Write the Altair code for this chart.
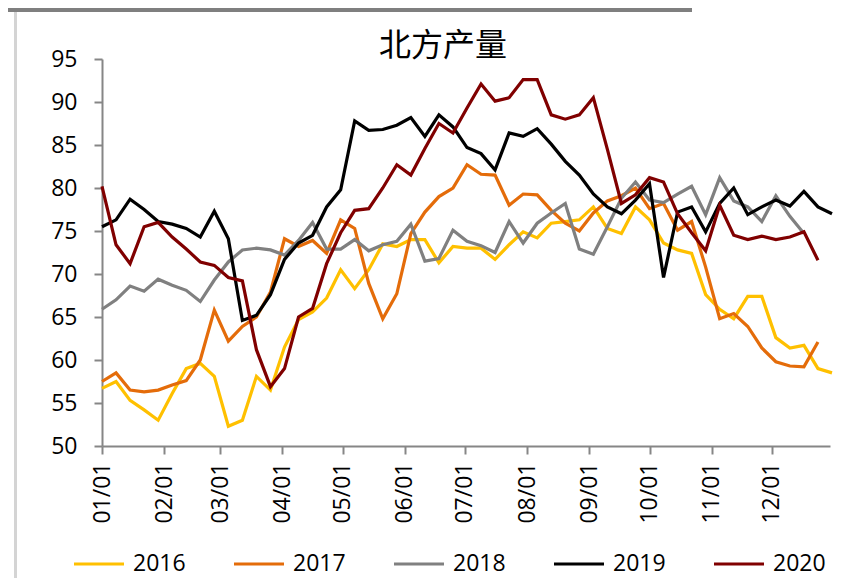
import altair as alt
import pandas as pd

years = ["2016", "2017", "2018", "2019", "2020"]
colors = ["#FFC000", "#E46C0A", "#808080", "#000000", "#800000"]
widths = [3.2, 3.2, 3.2, 3.2, 5.4]

v2016 = [56.7, 57.5, 55.3, 54.2, 53.0, 56.1, 59.0, 59.6, 58.1, 52.3, 53.0, 58.1, 56.5, 61.5,
         64.7, 65.6, 67.2, 70.5, 68.3, 70.5, 73.5, 73.2, 74.0, 74.0, 71.3, 73.2, 73.0, 73.0,
         71.7, 73.4, 74.9, 74.2, 75.9, 76.1, 76.3, 77.8, 75.3, 74.7, 77.8, 76.3, 73.6, 72.8,
         72.4, 67.6, 65.9, 64.8, 67.4, 67.4, 62.6, 61.4, 61.7, 59.0, 58.5]
v2017 = [57.5, 58.5, 56.5, 56.3, 56.5, 57.1, 57.6, 60.0, 65.8, 62.2, 63.9, 65.0, 67.9, 74.1,
         73.2, 73.9, 72.4, 76.3, 75.3, 68.9, 64.8, 67.7, 74.7, 77.2, 79.0, 80.0, 82.7, 81.6,
         81.5, 78.0, 79.3, 79.2, 77.4, 75.9, 75.0, 77.1, 78.5, 79.1, 80.0, 77.6, 78.2, 75.1,
         76.1, 70.8, 64.8, 65.4, 63.9, 61.4, 59.8, 59.3, 59.2, 62.1]
v2018 = [65.9, 67.0, 68.6, 68.0, 69.4, 68.7, 68.1, 66.8, 69.3, 71.4, 72.8, 73.0, 72.8, 72.2,
         73.9, 76.0, 72.9, 72.9, 74.0, 72.7, 73.4, 73.8, 75.8, 71.5, 71.8, 75.1, 73.8, 73.3,
         72.5, 76.1, 73.6, 75.9, 77.1, 78.2, 72.9, 72.3, 75.5, 78.8, 80.7, 78.6, 78.3, 79.3,
         80.2, 76.9, 81.2, 78.5, 77.8, 76.1, 79.1, 76.7, 74.7]
v2019 = [75.5, 76.3, 78.7, 77.5, 76.1, 75.8, 75.3, 74.3, 77.3, 74.1, 64.6, 65.2, 67.6, 71.7,
         73.6, 74.5, 77.8, 79.8, 87.8, 86.7, 86.8, 87.3, 88.2, 86.0, 88.5, 87.1, 84.7, 84.0,
         82.1, 86.4, 86.0, 86.9, 85.1, 83.1, 81.5, 79.3, 77.8, 77.0, 78.6, 80.5, 69.6, 77.2,
         77.8, 74.9, 78.2, 80.0, 76.9, 77.8, 78.6, 77.9, 79.6, 77.8, 77.0]
v2020 = [80.2, 73.4, 71.2, 75.5, 76.0, 74.3, 72.9, 71.4, 71.0, 69.6, 69.2, 61.2, 56.9, 59.0,
         65.0, 66.0, 71.2, 74.8, 77.4, 77.6, 80.0, 82.7, 81.5, 84.6, 87.5, 86.4, 89.3, 92.1,
         90.1, 90.5, 92.6, 92.6, 88.5, 88.0, 88.5, 90.5, 84.5, 78.2, 79.2, 81.2, 80.7, 77.0,
         74.8, 72.7, 78.0, 74.5, 74.0, 74.4, 74.0, 74.3, 74.9, 71.6]
series = [v2016, v2017, v2018, v2019, v2020]

y_ticks = [50, 55, 60, 65, 70, 75, 80, 85, 90, 95]
month_ticks = [alt.DateTime(year=2019, month=m, date=1) for m in range(1, 13)]

dates = pd.date_range("2019-01-01", periods=53, freq="7D").strftime("%Y-%m-%dT00:00:00")

rows = []
for yr, vals in zip(years, series):
    for d, v in zip(dates, vals):
        rows.append({"date": d, "value": v, "series": yr})
df = pd.DataFrame(rows)

font = "Open Sans"

lines = alt.Chart(df).mark_line(strokeJoin="miter", strokeCap="butt").encode(
    x=alt.X("date:T",
            scale=alt.Scale(domain=[alt.DateTime(year=2019, month=1, date=1),
                                    alt.DateTime(year=2019, month=12, date=30)]),
            axis=alt.Axis(values=month_ticks, format="%m/%d", labelAngle=270,
                          labelAlign="right", labelBaseline="middle",
                          labelPadding=8, tickSize=8, title=None, grid=False,
                          labelFont=font, labelFontSize=23, labelColor="#000000",
                          domainColor="#868686", domainWidth=2, tickColor="#868686",
                          tickWidth=2)),
    y=alt.Y("value:Q", scale=alt.Scale(domain=[50, 95], nice=False, zero=False),
            axis=alt.Axis(values=y_ticks, tickSize=8, labelPadding=17, title=None, grid=False,
                          labelFont=font, labelFontSize=23, labelColor="#000000",
                          domainColor="#868686", domainWidth=2, tickColor="#868686",
                          tickWidth=2)),
    color=alt.Color("series:N", scale=alt.Scale(domain=years, range=colors),
                    legend=alt.Legend(title=None, orient="none", legendX=-30, legendY=478,
                                      direction="horizontal", columns=5,
                                      symbolType="stroke", symbolSize=2500,
                                      symbolStrokeWidth=4, labelOffset=7,
                                      columnPadding=41, labelFont=font,
                                      labelFontSize=23, labelColor="#000000")),
    strokeWidth=alt.StrokeWidth("series:N", scale=alt.Scale(domain=years, range=widths),
                                legend=None),
)

# page decorations (frame bar on top, thin line on the left)
deco_src = pd.DataFrame({"k": [0]})
top_bar = alt.Chart(deco_src).mark_rule(color="#7f7f7f", strokeWidth=6).encode(
    x=alt.value(-94), x2=alt.value(590), y=alt.value(-50))
left_line = alt.Chart(deco_src).mark_rule(color="#d4d4d4", strokeWidth=3).encode(
    x=alt.value(-86.5), y=alt.value(-51), y2=alt.value(530))

chart = alt.layer(left_line, top_bar, lines).properties(
    width=728,
    height=387,
    title=alt.TitleParams("北方产量", font="Noto Sans CJK SC", fontSize=32,
                          fontWeight="normal", color="#000000", anchor="middle",
                          dx=-23, offset=-57),
    padding={"left": 94, "top": 51, "right": 4, "bottom": 132},
    autosize=alt.AutoSizeParams(type="none"),
    background="#ffffff",
).configure_view(stroke=None)

chart.save("out.html", embed_options={"renderer": "svg", "actions": False})
